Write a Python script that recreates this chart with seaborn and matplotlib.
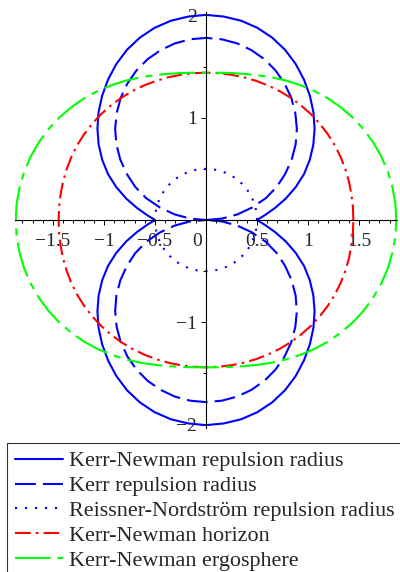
import numpy as np
import pandas as pd
import matplotlib
matplotlib.use('Agg')
import matplotlib.pyplot as plt
import seaborn as sns
from matplotlib.ticker import FixedLocator, MultipleLocator
from matplotlib.transforms import ScaledTranslation

# polar angle (deg, from +x axis) for one quadrant; curves are symmetric in both axes
angles_deg = [0, 5, 10, 15, 20, 25, 30, 35, 40, 45, 50, 55, 60, 65, 70, 75, 80, 85, 90]

# radii at those angles
kn_repulsion = [0.50, 0.585, 0.69, 0.81, 0.935, 1.06, 1.175, 1.285, 1.39, 1.49,
                1.585, 1.675, 1.76, 1.835, 1.897, 1.945, 1.978, 1.996, 2.005]
kerr_repulsion = [0.0, 0.155, 0.31, 0.465, 0.625, 0.765, 0.895, 1.025, 1.147, 1.26,
                  1.363, 1.458, 1.541, 1.613, 1.673, 1.719, 1.753, 1.773, 1.78]
rn_repulsion = [0.5] * 19
kn_horizon = [1.445, 1.446, 1.448, 1.451, 1.454, 1.457, 1.459, 1.46, 1.46, 1.459,
              1.457, 1.455, 1.452, 1.449, 1.446, 1.443, 1.441, 1.44, 1.44]
kn_ergosphere = [1.866, 1.864, 1.856, 1.844, 1.827, 1.806, 1.781, 1.752, 1.719, 1.685,
                 1.648, 1.61, 1.573, 1.537, 1.505, 1.478, 1.458, 1.445, 1.44]

labels = ['Kerr-Newman repulsion radius', 'Kerr repulsion radius',
          'Reissner-Nordström repulsion radius', 'Kerr-Newman horizon',
          'Kerr-Newman ergosphere']

xtick_vals = [-1.5, -1, -0.5, 0, 0.5, 1, 1.5]
xtick_labels = ['\u22121.5', '\u22121', '\u22120.5', '0', '0.5', '1', '1.5']
ytick_vals = [-2, -1, 1, 2]
ytick_labels = ['\u22122', '\u22121', '1', '2']


def full_curve(r_quad):
    phi = np.radians(angles_deg)
    r = np.array(r_quad)
    phi_all = np.concatenate([phi, np.pi - phi[::-1][1:], np.pi + phi[1:], 2 * np.pi - phi[::-1][1:]])
    r_all = np.concatenate([r, r[::-1][1:], r[1:], r[::-1][1:]])
    return pd.DataFrame({'x': r_all * np.cos(phi_all), 'y': r_all * np.sin(phi_all)})


sns.set_style('white')
plt.rcParams['font.family'] = ['Liberation Serif', 'DejaVu Serif']
plt.rcParams['axes.unicode_minus'] = True

fig = plt.figure(figsize=(4, 5.72), dpi=100)
ax = fig.add_axes([15 / 400, 1 - 428 / 572, 382 / 400, 416 / 572])

series = [kn_repulsion, kerr_repulsion, rn_repulsion, kn_horizon, kn_ergosphere]
colors = ['#0000ff', '#0000ff', '#0000ff', '#ff0000', '#00ff00']
styles = ['-', (0, (10, 3.4)), (0, (1, 3.8)), (0, (7.5, 2.5, 1.2, 2.5)), (0, (17, 3.4, 3.4, 3.4))]

for r_quad, col, ls, lab in zip(series, colors, styles, labels):
    sns.lineplot(data=full_curve(r_quad), x='x', y='y', sort=False, estimator=None,
                 color=col, linewidth=1.5, linestyle=ls, label=lab, legend=False, ax=ax)

ax.set_xlim(-1.873, 1.873)
ax.set_ylim(-2.033, 2.033)
ax.set_xlabel('')
ax.set_ylabel('')

for side in ['top', 'right']:
    ax.spines[side].set_visible(False)
for side in ['left', 'bottom']:
    ax.spines[side].set_position(('data', 0))
    ax.spines[side].set_color('black')
    ax.spines[side].set_linewidth(0.8)

ax.xaxis.set_major_locator(FixedLocator(xtick_vals))
ax.set_xticklabels(xtick_labels)
ax.xaxis.set_minor_locator(MultipleLocator(0.1))
ax.yaxis.set_major_locator(FixedLocator(ytick_vals))
ax.set_yticklabels(ytick_labels)
ax.yaxis.set_minor_locator(MultipleLocator(0.5))

ax.tick_params(which='both', bottom=True, left=True, direction='out', color='black', width=0.7)
ax.tick_params(which='major', length=3.6, labelsize=14)
ax.tick_params(axis='x', which='major', pad=5.5)
ax.tick_params(axis='y', which='major', pad=3)
ax.tick_params(which='minor', length=2.5)

# the origin label sits left of the vertical axis
for t in ax.get_xticklabels():
    if t.get_text() == '0':
        t.set_ha('right')
        t.set_transform(t.get_transform() + ScaledTranslation(-3 / 72, 0, fig.dpi_scale_trans))

handles, labs = ax.get_legend_handles_labels()
leg = fig.legend(handles, labs, loc='upper left', bbox_to_anchor=(7 / 400, 1 - 443 / 572),
                 fontsize=15.9, frameon=True, fancybox=False, borderpad=0.36,
                 handlelength=2.18, handletextpad=0.28, labelspacing=0.2,
                 borderaxespad=0)
leg.get_frame().set_edgecolor('black')
leg.get_frame().set_linewidth(0.8)

fig.savefig('out.png', dpi=100)
